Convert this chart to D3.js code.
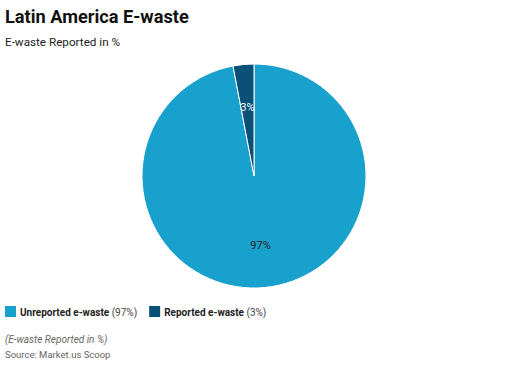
<!DOCTYPE html>
<html>
<head>
<meta charset="utf-8">
<script src="https://cdn.jsdelivr.net/npm/d3@7"></script>
<style>
  body { margin: 0; background: #fff; font-family: Roboto, sans-serif; }
</style>
</head>
<body>
<div id="chart"></div>
<script>
const categories = ['Unreported e-waste', 'Reported e-waste'];
const values = [97, 3];
const colors = ['#19a1cd', '#0b5177'];
const labelColors = ['#222', '#fff'];

const width = 507, height = 365;
const cx = 254, cy = 176, radius = 112;

const svg = d3.select('#chart').append('svg')
    .attr('width', width)
    .attr('height', height);

svg.append('text')
    .attr('x', 5).attr('y', 23)
    .style('font-size', '18.2px').style('font-weight', 'bold').style('fill', '#111')
    .text('Latin America E-waste');

svg.append('text')
    .attr('x', 5).attr('y', 46)
    .style('font-size', '11.7px').style('fill', '#222')
    .text('E-waste Reported in %');

let data = categories.map((c, i) => ({name: c, value: values[i], color: colors[i], lc: labelColors[i]}));

const pie = d3.pie().sort(null).value(d => d.value);
const arc = d3.arc().innerRadius(0).outerRadius(radius);
const labelArc = d3.arc().innerRadius(radius * 0.62).outerRadius(radius * 0.62);

const g = svg.append('g').attr('transform', 'translate(' + cx + ',' + cy + ')');

g.selectAll('.slice')
    .data(pie(data))
    .enter().append('path')
    .attr('class', 'slice')
    .attr('d', arc)
    .attr('fill', d => d.data.color)
    .attr('stroke', '#fff')
    .attr('stroke-width', 1);

g.selectAll('.lbl')
    .data(pie(data))
    .enter().append('text')
    .attr('class', 'lbl')
    .attr('transform', d => 'translate(' + labelArc.centroid(d) + ')')
    .attr('text-anchor', 'middle')
    .attr('dy', '0.35em')
    .style('font-size', '11px')
    .style('fill', d => d.data.lc)
    .text(d => d.data.value + '%');

// legend
const legend = svg.append('g').attr('transform', 'translate(5,306)');
let lx = 0;
data.forEach(function(d) {
    const item = legend.append('g').attr('transform', 'translate(' + lx + ',0)');
    item.append('rect').attr('width', 11).attr('height', 11).attr('fill', d.color);
    const t = item.append('text').attr('x', 15).attr('y', 9.5).style('font-size', '10px').style('fill', '#222');
    t.append('tspan').style('font-weight', 'bold').text(d.name);
    t.append('tspan').style('fill', '#444').text(' (' + d.value + '%)');
    lx += 15 + t.node().getComputedTextLength() + 12;
});

svg.append('text')
    .attr('x', 5).attr('y', 343)
    .style('font-size', '10px').style('font-style', 'italic').style('fill', '#666')
    .text('(E-waste Reported in %)');

svg.append('text')
    .attr('x', 5).attr('y', 358)
    .style('font-size', '9.5px').style('fill', '#666')
    .text('Source: Market.us Scoop');
</script>
</body>
</html>
